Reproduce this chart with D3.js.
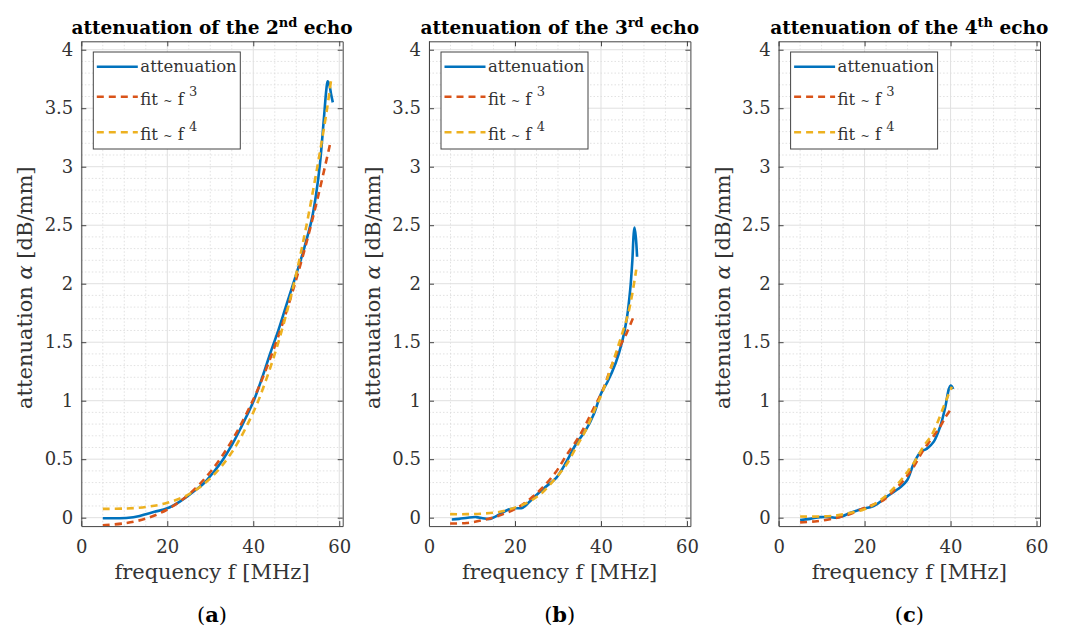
<!DOCTYPE html>
<html>
<head>
<meta charset="utf-8">
<script src="https://cdn.jsdelivr.net/npm/d3@7.9.0/dist/d3.min.js"></script>
<style>
  body { margin: 0; background: #fff; }
  svg { display: block; }
</style>
</head>
<body>
<svg id="fig"></svg>
<script>
// [frequency MHz, attenuation dB/mm]
const att2 = [[5,-0.005],[8,-0.005],[11,0.0],[13,0.01],[15,0.03],[17,0.05],[20,0.08],[23,0.14],[26,0.22],[28.4,0.29],[31,0.4],[33,0.5],[35,0.62],[37,0.76],[40,0.99],[42,1.19],[44,1.41],[46,1.62],[47.8,1.83],[49.3,2.0],[51.5,2.26],[53.6,2.55],[54.6,2.76],[55.5,3.02],[56.4,3.4],[57.0,3.66],[57.3,3.73],[57.7,3.7],[58.1,3.62],[58.5,3.55]];
const cub2 = [[5,-0.065],[10,-0.048],[15,-0.008],[20,0.07],[25,0.198],[30,0.39],[35,0.657],[40,1.01],[43,1.27],[46,1.57],[49,1.915],[52,2.3],[55,2.735],[57.9,3.2]];
const quart2 = [[5,0.075],[10,0.078],[15,0.091],[20,0.127],[25,0.2],[30,0.336],[35,0.558],[40,0.9],[43,1.18],[46,1.52],[49,1.93],[52,2.43],[55,3.02],[57.1,3.48],[58.2,3.77]];

const att3 = [[5.3,-0.015],[7,-0.01],[9,0.0],[11,0.005],[12.5,-0.005],[14.2,-0.01],[16.5,0.03],[18.5,0.07],[20,0.08],[21.8,0.085],[24,0.16],[27,0.26],[29.6,0.34],[32,0.48],[34.2,0.63],[36.5,0.75],[38.4,0.89],[40,1.06],[41.5,1.16],[43.4,1.32],[44.9,1.5],[46,1.7],[46.8,1.95],[47.3,2.2],[47.6,2.42],[47.8,2.48],[48.1,2.4],[48.4,2.23]];
const cub3 = [[4.9,-0.05],[8.8,-0.045],[12.6,-0.02],[16.5,0.02],[20.3,0.08],[23.5,0.16],[26.5,0.26],[29.5,0.39],[31.9,0.53],[34.5,0.67],[36.5,0.8],[38.5,0.95],[40.3,1.08],[42.5,1.3],[44.2,1.45],[46,1.58],[47.6,1.72]];
const quart3 = [[4.9,0.03],[8.8,0.03],[12.6,0.035],[16.5,0.05],[20.3,0.09],[23.5,0.14],[26.5,0.22],[29.5,0.34],[31.9,0.45],[34.5,0.62],[36.5,0.75],[38.5,0.92],[40.3,1.07],[42.5,1.3],[44.2,1.49],[46.5,1.77],[48.2,2.12]];

const att4 = [[5,-0.02],[7.3,-0.01],[9.7,0.005],[12,0.005],[13.6,0.0],[15,0.015],[16.6,0.04],[19,0.07],[22.1,0.1],[25.2,0.18],[28.3,0.26],[29.9,0.32],[31.4,0.46],[33,0.56],[34.5,0.59],[36.1,0.65],[37.6,0.78],[38.8,0.95],[39.6,1.1],[40.0,1.13],[40.3,1.12],[40.6,1.1]];
const cub4 = [[5,-0.04],[8.9,-0.03],[13.6,0.0],[16.5,0.03],[19.8,0.08],[22,0.11],[24.4,0.15],[27,0.24],[29.1,0.32],[31.5,0.44],[33.7,0.58],[35.5,0.67],[37.6,0.78],[39,0.87],[40.3,0.94]];
const quart4 = [[5,0.01],[9.7,0.01],[13.6,0.02],[16.5,0.04],[19.8,0.07],[22,0.11],[24.4,0.17],[27,0.26],[29.1,0.35],[31.5,0.47],[33.7,0.61],[35.5,0.7],[36.8,0.8],[38.4,0.95],[39.5,1.05],[40.3,1.12]];

const echoNum = ["2", "3", "4"];
const echoSup = ["nd", "rd", "th"];
const panelTags = ["a", "b", "c"];
const xTicks = [0, 20, 40, 60];
const yTicks = [0, 0.5, 1, 1.5, 2, 2.5, 3, 3.5, 4];
const seriesNames = ["attenuation", "fit ~ f", "fit ~ f"];
const seriesPow = [null, "3", "4"];
const colors = ["#0072BD", "#D95319", "#EDB120"];

const W = 1065, H = 635;
const font = "'DejaVu Serif', serif";
const panelLeft = [81.3, 429, 778.6];
const pw = 261.4, plotTop = 41.3, plotBottom = 526.1;

const svg = d3.select("#fig").attr("width", W).attr("height", H);

const panels = [
  { series: [att2, cub2, quart2] },
  { series: [att3, cub3, quart3] },
  { series: [att4, cub4, quart4] }
];

panels.forEach((p, i) => {
  const left = panelLeft[i];
  const x = d3.scaleLinear().domain([0, 60.8]).range([left, left + pw]);
  const y = d3.scaleLinear().domain([-0.072, 4.072]).range([plotBottom, plotTop]);
  const g = svg.append("g");

  // minor grid (dotted)
  g.append("g").selectAll("line").data(d3.range(0, 61, 5).filter(v => v % 20 !== 0))
    .join("line")
    .attr("x1", d => x(d)).attr("x2", d => x(d)).attr("y1", plotTop).attr("y2", plotBottom)
    .attr("stroke", "#d9d9d9").attr("stroke-width", 0.8).attr("stroke-dasharray", "1.5,2");
  g.append("g").selectAll("line").data(d3.range(0, 41).map(v => v / 10).filter(v => Math.round(v * 10) % 5 !== 0))
    .join("line")
    .attr("y1", d => y(d)).attr("y2", d => y(d)).attr("x1", left).attr("x2", left + pw)
    .attr("stroke", "#d9d9d9").attr("stroke-width", 0.8).attr("stroke-dasharray", "1.5,2");
  // major grid
  g.append("g").selectAll("line").data(xTicks)
    .join("line")
    .attr("x1", d => x(d)).attr("x2", d => x(d)).attr("y1", plotTop).attr("y2", plotBottom)
    .attr("stroke", "#e0e0e0").attr("stroke-width", 1);
  g.append("g").selectAll("line").data(yTicks)
    .join("line")
    .attr("y1", d => y(d)).attr("y2", d => y(d)).attr("x1", left).attr("x2", left + pw)
    .attr("stroke", "#e0e0e0").attr("stroke-width", 1);

  // data lines
  const clipId = "clip" + i;
  svg.append("clipPath").attr("id", clipId).append("rect")
    .attr("x", left).attr("y", plotTop).attr("width", pw).attr("height", plotBottom - plotTop);
  const line = d3.line().x(d => x(d[0])).y(d => y(d[1])).curve(d3.curveCatmullRom.alpha(0.5));
  p.series.forEach((s, k) => {
    g.append("path")
      .attr("clip-path", `url(#${clipId})`)
      .attr("d", line(s))
      .attr("fill", "none")
      .attr("stroke", colors[k])
      .attr("stroke-width", 2.6)
      .attr("stroke-dasharray", k === 0 ? null : "7,5");
  });

  // axes (ticks inward)
  const axCol = "#444";
  const gx = g.append("g").attr("transform", `translate(0,${plotBottom})`)
    .call(d3.axisBottom(x).tickValues(xTicks).tickSizeInner(-5).tickSizeOuter(0).tickPadding(14));
  const gy = g.append("g").attr("transform", `translate(${left},0)`)
    .call(d3.axisLeft(y).tickValues(yTicks).tickSizeInner(-5).tickSizeOuter(0).tickPadding(8).tickFormat(d => String(d)));
  const gt = g.append("g").attr("transform", `translate(0,${plotTop})`)
    .call(d3.axisTop(x).tickValues(xTicks).tickSizeInner(-5).tickSizeOuter(0).tickFormat(""));
  const gr = g.append("g").attr("transform", `translate(${left + pw},0)`)
    .call(d3.axisRight(y).tickValues(yTicks).tickSizeInner(-5).tickSizeOuter(0).tickFormat(""));
  [gx, gy, gt, gr].forEach(a => {
    a.selectAll("path, line").attr("stroke", axCol).attr("stroke-width", 1);
    a.selectAll("text").attr("fill", "#333").attr("font-family", font).attr("font-size", 18);
  });

  const cx = left + pw / 2;

  // title
  const t = svg.append("text").attr("x", cx).attr("y", 34)
    .attr("text-anchor", "middle").attr("font-family", font)
    .attr("font-weight", "bold").attr("font-size", 18.5).attr("fill", "#000");
  t.append("tspan").text("attenuation of the " + echoNum[i]);
  t.append("tspan").attr("dy", -7).attr("font-size", 13).text(echoSup[i]);
  t.append("tspan").attr("dy", 7).text(" echo");

  // axis labels
  svg.append("text").attr("x", cx).attr("y", 579)
    .attr("text-anchor", "middle").attr("font-family", font).attr("font-size", 21)
    .attr("fill", "#333").text("frequency f [MHz]");
  const yl = svg.append("text")
    .attr("transform", `translate(${left - 49},${(plotTop + plotBottom) / 2 + 4}) rotate(-90)`)
    .attr("text-anchor", "middle").attr("font-family", font).attr("font-size", 21)
    .attr("fill", "#333");
  yl.append("tspan").text("attenuation ");
  yl.append("tspan").attr("font-style", "italic").text("α");
  yl.append("tspan").text(" [dB/mm]");

  // sub-figure tag
  const tag = svg.append("text").attr("x", cx).attr("y", 622)
    .attr("text-anchor", "middle").attr("font-family", font).attr("font-size", 21).attr("fill", "#000");
  tag.append("tspan").text("(");
  tag.append("tspan").attr("font-weight", "bold").text(panelTags[i]);
  tag.append("tspan").text(")");

  // legend
  const lx = left + 12, ly = 52;
  const lg = svg.append("g").attr("transform", `translate(${lx},${ly})`);
  lg.append("rect").attr("width", 147).attr("height", 97)
    .attr("fill", "#fff").attr("stroke", "#444").attr("stroke-width", 1);
  const rowY = [14.7, 44.7, 80.3];
  seriesNames.forEach((name, k) => {
    lg.append("line").attr("x1", 3.5).attr("x2", 44.5).attr("y1", rowY[k]).attr("y2", rowY[k])
      .attr("stroke", colors[k]).attr("stroke-width", 2.6)
      .attr("stroke-dasharray", k === 0 ? null : "7,5");
    const tx = lg.append("text").attr("x", 47).attr("y", rowY[k] + (k === 0 ? 5 : 8))
      .attr("font-family", font).attr("font-size", 16.5).attr("fill", "#333");
    if (seriesPow[k]) {
      tx.append("tspan").text("fit ");
      tx.append("tspan").attr("font-size", 11).text("~");
      tx.append("tspan").text(" f ");
      tx.append("tspan").attr("dy", -9).attr("font-size", 13).text(seriesPow[k]);
    } else {
      tx.text(name);
    }
  });
});
</script>
</body>
</html>
